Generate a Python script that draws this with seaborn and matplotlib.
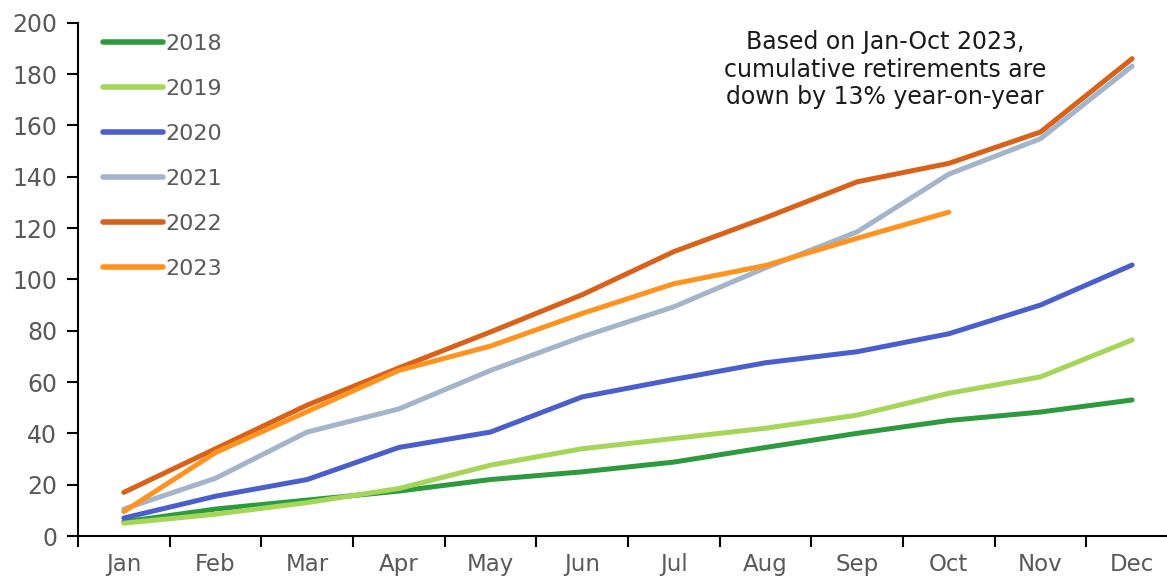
import matplotlib
matplotlib.use("Agg")
import matplotlib.pyplot as plt
from matplotlib.ticker import FixedLocator, NullFormatter
import numpy as np
import pandas as pd
import seaborn as sns

months = ["Jan", "Feb", "Mar", "Apr", "May", "Jun", "Jul", "Aug", "Sep", "Oct", "Nov", "Dec"]

y2018 = [5.5, 10.5, 14, 17.5, 22, 25, 28.8, 34.5, 40, 45, 48.3, 53]
y2019 = [5, 8.5, 13, 18.5, 27.6, 34, 38, 42, 47.1, 55.6, 62, 76.4]
y2020 = [7, 15.5, 22, 34.5, 40.5, 54.2, 61, 67.5, 71.8, 78.8, 90, 105.6]
y2021 = [10.5, 22.5, 40.5, 49.5, 64.5, 77.6, 89.3, 104.5, 118.5, 141, 154.8, 183.1]
y2022 = [17, 34, 51, 65.5, 79.5, 94, 110.8, 124, 138, 145.2, 157.4, 186]
y2023 = [9.5, 32.5, 48.5, 64.5, 74, 86.7, 98.3, 105.4, 116, 126.2]

years = ["2018", "2019", "2020", "2021", "2022", "2023"]
series = [y2018, y2019, y2020, y2021, y2022, y2023]
colors = ["#2e9a3e", "#a5d65a", "#4a5fcb", "#a3b4cb", "#d9621a", "#ff9320"]

note = "Based on Jan-Oct 2023,\ncumulative retirements are\ndown by 13% year-on-year"

rows = []
for yr, vals in zip(years, series):
    for i, v in enumerate(vals):
        rows.append({"year": yr, "month_idx": i, "value": v})
df = pd.DataFrame(rows)

sns.set_theme(style="white")
plt.rcParams["font.family"] = ["DejaVu Sans"]

fig = plt.figure(figsize=(11.67, 5.79), dpi=100)
ax = fig.add_axes([78 / 1167, 1 - 536 / 579, (1178 - 78) / 1167, (536 - 22.7) / 579])

sns.lineplot(
    data=df, x="month_idx", y="value", hue="year",
    palette=dict(zip(years, colors)), linewidth=3.6,
    solid_capstyle="round", ax=ax, legend=False,
)

ax.set_xlim(-0.5, 11.5)
ax.set_ylim(0, 200)
ax.set_yticks(np.arange(0, 201, 20))
ax.set_xlabel("")
ax.set_ylabel("")

# category boundaries carry the tick marks, centres carry the labels
ax.xaxis.set_major_locator(FixedLocator(np.arange(-0.5, 12, 1)))
ax.xaxis.set_major_formatter(NullFormatter())
ax.xaxis.set_minor_locator(FixedLocator(np.arange(12)))
ax.set_xticklabels(months, minor=True)
ax.tick_params(axis="x", which="major", direction="out", length=8, width=1.5, color="black", bottom=True)
ax.tick_params(axis="x", which="minor", length=0, pad=12, labelsize=16.5, labelcolor="#595959", bottom=True)
ax.tick_params(axis="y", direction="out", length=8, width=1.5, color="black", labelsize=17,
               labelcolor="#595959", pad=7, left=True)

for side in ["top", "right"]:
    ax.spines[side].set_visible(False)
for side in ["left", "bottom"]:
    ax.spines[side].set_color("black")
    ax.spines[side].set_linewidth(1.5)

handles = [plt.Line2D([0], [0], color=c, lw=4, solid_capstyle="round") for c in colors]
leg = ax.legend(handles, years, loc="upper left", bbox_to_anchor=(0.015, 0.995),
                frameon=False, fontsize=16, handlelength=2.7, handletextpad=0.1,
                labelspacing=1.12, borderaxespad=0)
for t in leg.get_texts():
    t.set_color("#595959")

ax.text((885 - 78) / 1100, 0.985, note, transform=ax.transAxes,
        ha="center", va="top", fontsize=17, color="#1a1a1a", linespacing=1.18)

fig.savefig("out.png", dpi=100)
